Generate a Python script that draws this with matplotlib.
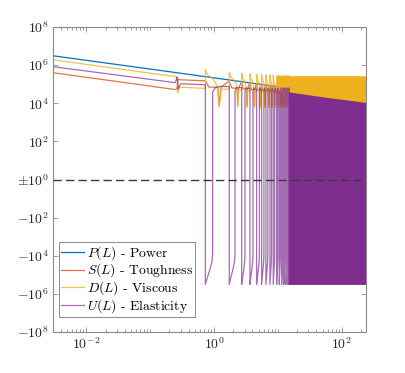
import numpy as np
import matplotlib
matplotlib.use("Agg")
import matplotlib.pyplot as plt
from matplotlib.ticker import FixedLocator, LogLocator, NullFormatter, NullLocator

plt.rcParams['mathtext.fontset'] = 'cm'
plt.rcParams['font.family'] = ['cmr10', 'DejaVu Serif']
plt.rcParams['axes.unicode_minus'] = False

# ---------------- data ----------------
labels = [r'$P(L)$ - Power', r'$S(L)$ - Toughness', r'$D(L)$ - Viscous', r'$U(L)$ - Elasticity']
colors = ['#0072BD', '#D95319', '#EDB120', '#7E2F8E']

# P(L): smooth power-law
P_L = [3e-3, 0.26, 10.0, 240.0]
P_val = [3.1e6, 4.0e5, 7.4e4, 1.74e4]

# left part (before the first spike) incl. the small resonance near L~0.27
S_left_L = [3e-3, 0.25, 0.262, 0.266, 0.27, 0.28, 0.30]
S_left_v = [4.0e5, 5.2e4, 5.5e4, 9.0e4, 1.6e5, 1.8e5, 1.7e5]
D_left_L = [3e-3, 0.25, 0.262, 0.266, 0.27, 0.275, 0.285]
D_left_v = [1.9e6, 2.5e5, 2.2e5, 1.0e5, 3.5e4, 5.0e4, 7.0e4]
U_left_L = [3e-3, 0.246, 0.255, 0.262, 0.268, 0.272, 0.274, 0.28, 0.285, 0.30]
U_left_v = [8.3e5, 1.2e5, 1.6e5, 2.4e5, 1.9e5, 1.0e5, 6.0e4, 5.5e4, 8.0e4, 1.05e5]

# spikes: drop of U (and jump of D), zero crossing of U, notch of D and S
spike_L = [0.73, 1.73, 2.71, 3.65, 4.64, 5.56, 6.49, 7.50, 8.45, 9.55, 10.5, 11.45, 12.4, 13.4, 14.4]
rise_L = [0.95, 2.13, 3.05, 4.07, 5.13, 6.04, 6.95, 7.95, 8.9, 10.0, 10.95, 11.9, 12.85, 13.85, 14.85]
notch_L = [1.2, 2.35, 3.3, 4.3, 5.3, 6.25, 7.2, 8.15, 9.15, 10.2, 11.2, 12.1, 13.1, 14.1]

U_hi = [9.3e4, 7.6e4, 6.6e4, 6.0e4, 5.5e4, 5.2e4, 5.1e4, 4.9e4, 4.7e4, 4.5e4, 4.3e4, 4.1e4, 3.9e4, 3.7e4, 3.6e4]
U_floor = -3.2e5
U_neg_frac = [0.0, 0.27, 0.64, 0.92, 1.0]          # shape of the negative lobe
U_neg_val = [-3.2e5, -1.4e5, -5.1e4, -1.9e4, -8.5e3]
U_rise_top = 4.0e4

D_peak = [5.7e5, 4.2e5, 3.8e5, 3.5e5, 3.3e5, 3.2e5, 3.0e5, 2.95e5, 2.9e5, 2.85e5, 2.8e5, 2.8e5, 2.8e5, 2.8e5, 2.8e5]
D_base = [6.0e4, 5.5e4, 5.0e4, 4.6e4, 4.3e4, 4.0e4, 3.8e4, 3.6e4, 3.4e4, 3.3e4, 3.2e4, 3.1e4, 3.0e4, 2.9e4, 2.8e4]
D_notch = 6.0e3

S_hi = [1.5e5, 1.3e5, 1.2e5, 1.1e5, 1.0e5, 9.5e4, 9.0e4, 8.6e4, 8.2e4, 7.9e4, 7.6e4, 7.3e4, 7.0e4, 6.8e4, 6.6e4]
S_lo = [7.0e4, 6.2e4, 5.6e4, 5.2e4, 4.8e4, 4.5e4, 4.3e4, 4.1e4, 3.9e4, 3.7e4, 3.6e4, 3.5e4, 3.4e4, 3.3e4, 3.2e4]
S_notch = 8.0e3

# dense oscillation bands (beyond the resolved spikes)
U_dense_L = [14.4, 30.0, 60.0, 120.0, 240.0]
U_top = [4.0e4, 2.8e4, 2.0e4, 1.5e4, 1.1e4]
D_dense_L = [9.55, 14.4, 30.0, 60.0, 120.0, 240.0]
D_top = [2.85e5, 2.8e5, 2.8e5, 2.8e5, 2.8e5, 2.8e5]
D_under = [4.0e4, 3.0e4, 1.0e4, 1.0e4, 1.0e4, 1.0e4]

x_ticks = [1e-2, 1.0, 1e2]
x_ticklabels = [r'$10^{-2}$', r'$10^{0}$', r'$10^{2}$']
y_ticks = [-1e8, -1e6, -1e4, -1e2, 1.0, 1e2, 1e4, 1e6, 1e8]
y_ticklabels = [r'$-10^{8}$', r'$-10^{6}$', r'$-10^{4}$', r'$-10^{2}$', r'$\pm10^{0}$',
                r'$10^{2}$', r'$10^{4}$', r'$10^{6}$', r'$10^{8}$']


# ---------------- build paths ----------------
def lfrac(a, b, f):
    return a * (b / a) ** f

N = len(spike_L)
U_x, U_y = list(U_left_L), list(U_left_v)
D_x, D_y = list(D_left_L), list(D_left_v)
S_x, S_y = list(S_left_L), list(S_left_v)
for k in range(N):
    Lk, Rk = spike_L[k], rise_L[k]
    Ln = spike_L[k + 1] if k + 1 < N else Rk * 1.05
    # U
    U_x += [Lk]; U_y += [U_hi[k]]
    for f, v in zip(U_neg_frac, U_neg_val):
        U_x.append(lfrac(Lk, Rk, f)); U_y.append(v)
    U_x += [Rk, lfrac(Rk, Ln, 0.15), lfrac(Rk, Ln, 0.45)]
    U_y += [U_rise_top, U_rise_top * 1.6, U_hi[k + 1] if k + 1 < N else U_hi[k]]
    # D
    D_x += [Lk, Lk, lfrac(Lk, Rk, 0.3), Rk]
    D_y += [D_base[k], D_peak[k], D_peak[k] * 0.55, D_peak[k] * 0.35]
    if k < len(notch_L):
        Nk = notch_L[k]
        D_x += [lfrac(Rk, Nk, 0.8), Nk, lfrac(Nk, Ln, 0.2)]
        D_y += [D_base[k] * 1.2, D_notch, D_base[k + 1]]
    # S
    S_x += [Lk, lfrac(Lk, Rk, 0.5), Rk]
    S_y += [S_hi[k], S_lo[k], S_lo[k]]
    if k < len(notch_L):
        Nk = notch_L[k]
        S_x += [lfrac(Rk, Nk, 0.8), Nk, lfrac(Nk, Ln, 0.2), lfrac(Nk, Ln, 0.85)]
        S_y += [S_lo[k], S_notch, S_lo[k], S_hi[k + 1]]


def fwd(y):
    y = np.asarray(y, dtype=float)
    return np.sign(y) * np.log10(np.maximum(np.abs(y), 1.0))


def inv(t):
    t = np.asarray(t, dtype=float)
    return np.sign(t) * 10.0 ** np.abs(t)


# ---------------- figure ----------------
fig = plt.figure(figsize=(4.05, 3.73), dpi=100)
ax = fig.add_axes([53 / 405, 41 / 373, 313 / 405, 305 / 373])
ax.set_xscale('log')
ax.set_yscale('function', functions=(fwd, inv))

lw = 0.9
hP, = ax.plot(P_L, P_val, color=colors[0], lw=lw, zorder=2.0)
hS, = ax.plot(S_x, S_y, color=colors[1], lw=lw, alpha=0.8, zorder=2.1)
hD, = ax.plot(D_x, D_y, color=colors[2], lw=lw, alpha=0.8, zorder=2.2)
ax.fill_between(D_dense_L, D_under, D_top, color=colors[2], lw=0, zorder=2.25)
hU, = ax.plot(U_x, U_y, color=colors[3], lw=lw, alpha=0.7, zorder=2.3)
ax.fill_between(U_dense_L, [U_floor] * len(U_dense_L), U_top, color=colors[3], lw=0, zorder=2.35)

ax.axhline(0.0, color='#3a3a3a', lw=1.0, dashes=(6, 3), zorder=3)

ax.set_xlim(3e-3, 240)
ax.set_ylim(-1e8, 1e8)

ax.xaxis.set_major_locator(FixedLocator(x_ticks))
ax.set_xticklabels(x_ticklabels)
ax.xaxis.set_minor_locator(LogLocator(base=10, subs=np.arange(1, 10), numticks=50))
ax.xaxis.set_minor_formatter(NullFormatter())
ax.yaxis.set_major_locator(FixedLocator(y_ticks))
ax.set_yticklabels(y_ticklabels)
ax.yaxis.set_minor_locator(NullLocator())

for s in ax.spines.values():
    s.set_color('#8a8a8a')
    s.set_linewidth(0.8)
ax.tick_params(which='both', direction='in', top=True, right=True, colors='#8a8a8a',
               labelcolor='#262626', labelsize=10, width=0.6)
ax.tick_params(which='major', length=3.5, pad=3)
ax.tick_params(which='minor', length=2)

leg = ax.legend([hP, hS, hD, hU], labels, loc='lower left', bbox_to_anchor=(0.019, 0.049),
                borderaxespad=0, fontsize=9.8, fancybox=False, framealpha=1,
                edgecolor='#7a7a7a', handlelength=1.7, handletextpad=0.2,
                borderpad=0.15, labelspacing=0.0, handleheight=0.5)
leg.get_frame().set_linewidth(0.6)

fig.savefig('out.png', dpi=100)
